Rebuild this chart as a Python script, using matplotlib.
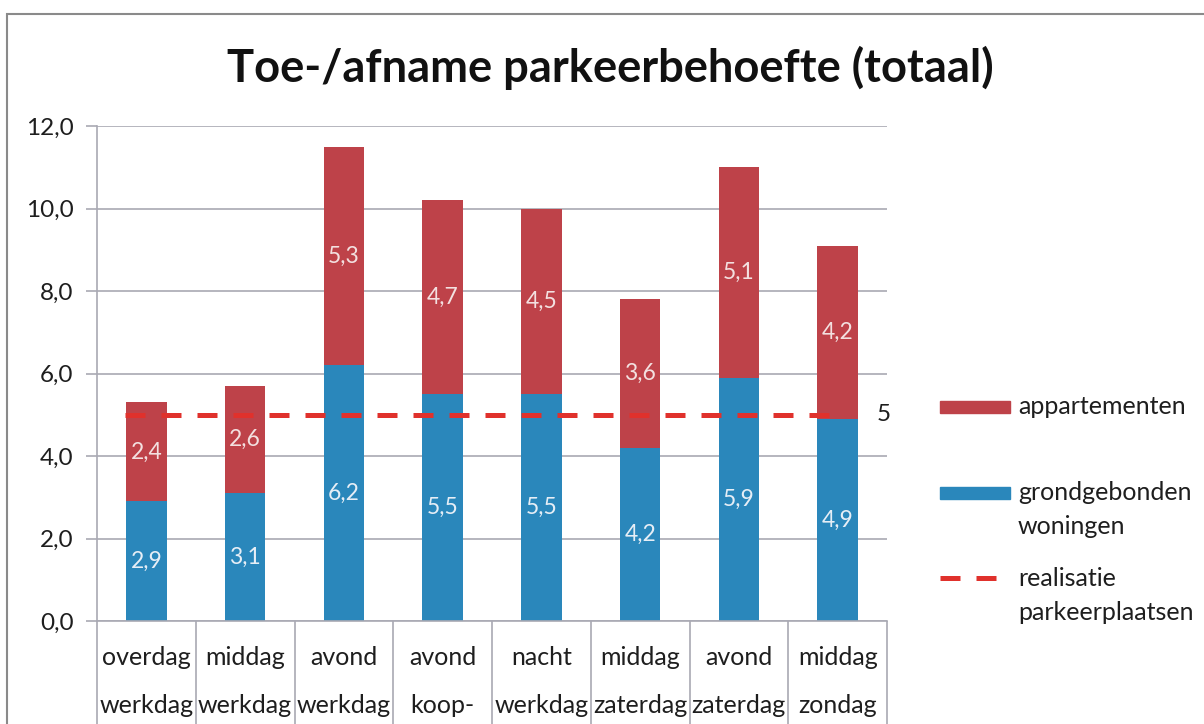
import numpy as np
import matplotlib
matplotlib.use("Agg")
import matplotlib.pyplot as plt
from matplotlib.lines import Line2D
from matplotlib.patches import Rectangle

plt.rcParams['font.family'] = ['Lato', 'DejaVu Sans']

categories = ["overdag\nwerkdag", "middag\nwerkdag", "avond\nwerkdag", "avond\nkoop-",
              "nacht\nwerkdag", "middag\nzaterdag", "avond\nzaterdag", "middag\nzondag"]
grondgebonden = [2.9, 3.1, 6.2, 5.5, 5.5, 4.2, 5.9, 4.9]
appartementen = [2.4, 2.6, 5.3, 4.7, 4.5, 3.6, 5.1, 4.2]
realisatie = 5

blue = "#2a87bb"
red = "#be4249"
dash_red = "#e0312c"
grid_col = "#a9a9b3"
txt = "#1e1e1e"

fig = plt.figure(figsize=(12.04, 7.24), dpi=100)
ax = fig.add_axes([97/1204, 103/724, 790/1204, 495/724])

x = np.arange(len(categories))
ax.bar(x, grondgebonden, width=0.41, color=blue, zorder=2)
ax.bar(x, appartementen, width=0.41, bottom=grondgebonden, color=red, zorder=2)

for i in range(len(x)):
    ax.text(x[i], grondgebonden[i] / 2, f"{grondgebonden[i]:.1f}".replace(".", ","),
            ha="center", va="center", color="#e6eef6", fontsize=16.5, zorder=3)
    ax.text(x[i], grondgebonden[i] + appartementen[i] / 2, f"{appartementen[i]:.1f}".replace(".", ","),
            ha="center", va="center", color="#f3e0e0", fontsize=16.5, zorder=3)

ax.hlines(realisatie, x[0] - 0.22, x[-1] + 0.03, colors=dash_red, linewidth=3.6,
          linestyles=(0, (4, 3.2)), zorder=4)
ax.text(x[-1] + 0.40, realisatie, str(realisatie), ha="left", va="center", fontsize=17.5, color=txt)

ax.set_xlim(-0.5, len(x) - 0.5)
ax.set_ylim(0, 12)
yt = np.arange(0, 13, 2)
ax.set_yticks(yt)
ax.set_yticklabels([f"{v:.1f}".replace(".", ",") for v in yt], fontsize=17.5, color=txt)
ax.yaxis.grid(True, color=grid_col, linewidth=1.2, zorder=0)
ax.tick_params(axis="y", length=8, color=grid_col, width=1.2, pad=9)

ax.set_xticks(x)
ax.set_xticklabels(categories, fontsize=18, linespacing=2.3, color=txt)
ax.tick_params(axis="x", which="major", length=0, pad=18)
ax.set_xticks(np.arange(len(x) + 1) - 0.5, minor=True)
ax.tick_params(axis="x", which="minor", length=120, color=grid_col, width=1.2)

for side in ["top", "right"]:
    ax.spines[side].set_visible(False)
for side in ["left", "bottom"]:
    ax.spines[side].set_color(grid_col)
    ax.spines[side].set_linewidth(1.2)

fig.text(610/1204, 1 - 68/724, "Toe-/afname parkeerbehoefte (totaal)", ha="center", va="center",
         fontsize=32.6, fontweight="bold", color="#111111")

# legend, handles aligned with the first text line
leg_items = [("patch", red, ["appartementen"], 407),
             ("patch", blue, ["grondgebonden", "woningen"], 493),
             ("line", dash_red, ["realisatie", "parkeerplaatsen"], 578)]
for kind, col, lines, ypix in leg_items:
    yf = 1 - ypix / 724
    if kind == "patch":
        fig.patches.append(Rectangle((940/1204, yf - 6/724), 70/1204, 12/724,
                                     transform=fig.transFigure, color=col))
    else:
        fig.lines.append(Line2D([940/1204, 1010/1204], [yf, yf], transform=fig.transFigure,
                                color=col, linewidth=3.6, linestyle=(0, (4, 3.2))))
    for k, s in enumerate(lines):
        fig.text(1018/1204, yf - k * 34/724, s, ha="left", va="center", fontsize=18, color=txt)

fig.patches.append(Rectangle((7/1204, -0.1), 1.2, 1 - 14/724 + 0.1, transform=fig.transFigure,
                             fill=False, edgecolor="#8a8a8a", linewidth=1.5))

fig.savefig("out.png", dpi=100)
